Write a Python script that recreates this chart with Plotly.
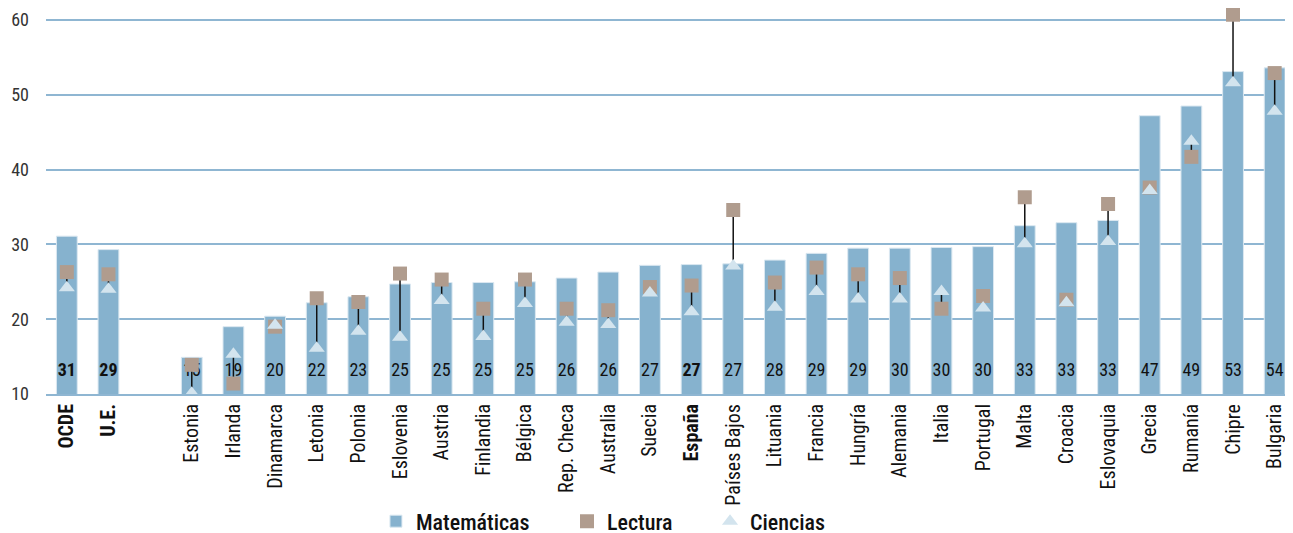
import plotly.graph_objects as go

categories = ["OCDE", "U.E.", " ", "Estonia", "Irlanda", "Dinamarca", "Letonia", "Polonia",
              "Eslovenia", "Austria", "Finlandia", "Bélgica", "Rep. Checa", "Australia",
              "Suecia", "España", "Países Bajos", "Lituania", "Francia", "Hungría",
              "Alemania", "Italia", "Portugal", "Malta", "Croacia", "Eslovaquia", "Grecia",
              "Rumanía", "Chipre", "Bulgaria"]
bold_cats = ["OCDE", "U.E.", "España"]

matematicas = [31.1, 29.3, None, 14.9, 19.0, 20.4, 22.2, 23.0, 24.7, 24.9, 24.9, 25.0, 25.5,
               26.3, 27.2, 27.3, 27.4, 27.9, 28.8, 29.5, 29.5, 29.6, 29.7, 32.5, 32.9, 33.2,
               47.2, 48.5, 53.1, 53.6]
lectura = [26.3, 26.0, None, 13.9, 11.4, 19.0, 22.8, 22.3, 26.1, 25.3, 21.4, 25.3, 21.4,
           21.2, 24.3, 24.5, 34.6, 24.9, 26.9, 26.0, 25.5, 21.4, 23.1, 36.3, 22.6, 35.4,
           37.6, 41.7, 60.7, 52.9]
ciencias = [24.2, 24.0, None, 10.1, 15.3, 19.2, 16.1, 18.4, 17.6, 22.5, 17.7, 22.1, 19.6,
            19.3, 23.5, 21.0, 27.1, 21.6, 23.7, 22.7, 22.7, 23.7, 21.5, 30.1, 22.2, 30.4,
            37.2, 43.8, 51.6, 47.8]
value_labels = [31, 29, None, 15, 19, 20, 22, 23, 25, 25, 25, 25, 26, 26, 27, 27, 27, 28, 29,
                29, 30, 30, 30, 33, 33, 33, 47, 49, 53, 54]
y_ticks = [10, 20, 30, 40, 50, 60]

FONT = "Roboto Condensed, Liberation Sans Narrow, Roboto, sans-serif"
BAR = "#86b2ce"
SQ = "#b09c8e"
TRI = "#d3e4ee"
GRID = "#8fb6d2"

x_idx = list(range(len(categories)))
tick_text = [f"<b>{c}</b>" if c in bold_cats else c for c in categories]
lab_text = []
for c, v in zip(categories, value_labels):
    if v is None:
        lab_text.append("")
    elif c in bold_cats:
        lab_text.append(f"<b>{v}</b>")
    else:
        lab_text.append(str(v))

# connectors
lx, ly = [], []
for i, (a, b) in enumerate(zip(lectura, ciencias)):
    if a is None:
        continue
    lx += [i, i, None]
    ly += [a, b, None]

fig = go.Figure()
fig.add_trace(go.Bar(x=x_idx, y=matematicas, name="Matemáticas", marker_color=BAR,
                     marker_line=dict(color="#dbe8f1", width=1), width=0.5, base=0,
                     legend="legend"))
fig.add_trace(go.Scatter(x=x_idx, y=[13 if v is not None else None for v in value_labels],
                         mode="text", text=lab_text, showlegend=False, hoverinfo="skip",
                         textfont=dict(family=FONT, size=18, color="#111")))
fig.add_trace(go.Scatter(x=lx, y=ly, mode="lines", line=dict(color="#111", width=1.5),
                         showlegend=False, hoverinfo="skip"))
fig.add_trace(go.Scatter(x=x_idx, y=lectura, mode="markers", name="Lectura",
                         marker=dict(symbol="square", size=14, color=SQ), legend="legend2"))
fig.add_trace(go.Scatter(x=x_idx, y=ciencias, mode="markers", name="Ciencias",
                         marker=dict(symbol="triangle-up", size=14, color=TRI),
                         legend="legend3"))

leg_font = dict(family=FONT, size=22, color="#111", weight=500)
leg_common = dict(orientation="h", y=-0.33, yanchor="middle", xanchor="left",
                  font=leg_font, itemwidth=30, bgcolor="rgba(0,0,0,0)")

# page body has an 8px margin; figure extends below the window so legends fit without
# pushing margins
fig.update_layout(
    width=1285, height=545,
    margin=dict(l=38, r=0, t=0, b=159),
    plot_bgcolor="white", paper_bgcolor="white",
    font=dict(family=FONT, color="#222"),
    showlegend=True,
    legend=dict(x=0.2646, **leg_common),
    legend2=dict(x=0.4178, **leg_common),
    legend3=dict(x=0.5325, **leg_common),
    xaxis=dict(range=[-0.5, 29.44], tickmode="array", tickvals=x_idx, ticktext=tick_text,
               tickangle=-90, tickfont=dict(family=FONT, size=20, color="#111"),
               showgrid=False, showline=True, linecolor=GRID, linewidth=2, ticks="",
               automargin=False),
    yaxis=dict(range=[10, 61.6], tickvals=y_ticks, showgrid=True, gridcolor=GRID,
               gridwidth=2, zeroline=False, tickfont=dict(family=FONT, size=18, color="#333"),
               ticklabelstandoff=16, automargin=False),
)

fig.write_html("out.html")
